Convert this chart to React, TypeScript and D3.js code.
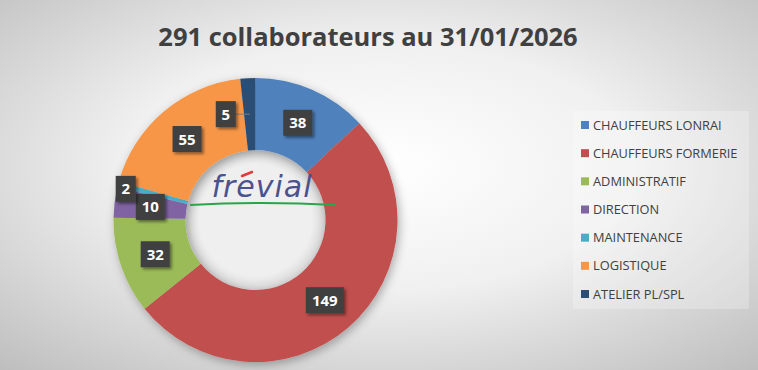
import React from "react";
import * as d3 from "d3";

const categories = ["CHAUFFEURS LONRAI", "CHAUFFEURS FORMERIE", "ADMINISTRATIF", "DIRECTION", "MAINTENANCE", "LOGISTIQUE", "ATELIER PL/SPL"];
const values = [38, 149, 32, 10, 2, 55, 5];
const colors = ["#4f81bd", "#c0504d", "#9bbb59", "#8064a2", "#4bacc6", "#f79646", "#2c4d75"];
const title = "291 collaborateurs au 31/01/2026";

const W = 758, H = 370;
const cx = 255.5, cy = 220, outerR = 142, innerR = 70;

export default function App() {
  const pie = d3.pie<number>().sort(null).value((d) => d)(values);
  const arc = d3.arc<d3.PieArcDatum<number>>().innerRadius(innerR).outerRadius(outerR);
  const labelArc = d3.arc<d3.PieArcDatum<number>>().innerRadius(106).outerRadius(106);
  const outArc = d3.arc<d3.PieArcDatum<number>>().innerRadius(132).outerRadius(132);
  const font = "'Open Sans', 'DejaVu Sans', sans-serif";
  const legendY = d3.scalePoint<string>().domain(categories).range([125, 294]);

  return (
    <svg width={W} height={H} style={{ position: "absolute", left: 0, top: 0 }}>
      <defs>
        <radialGradient id="bg" cx="0.5" cy="0.45" r="0.75">
          <stop offset="0" stopColor="#ffffff" />
          <stop offset="0.45" stopColor="#f0f0f0" />
          <stop offset="1" stopColor="#bdbdbd" />
        </radialGradient>
        <filter id="sh" x="-20%" y="-20%" width="140%" height="140%">
          <feDropShadow dx="2" dy="3" stdDeviation="5" floodColor="#000" floodOpacity="0.3" />
        </filter>
        <filter id="lsh" x="-30%" y="-30%" width="160%" height="160%">
          <feDropShadow dx="2" dy="2" stdDeviation="1.5" floodColor="#000" floodOpacity="0.45" />
        </filter>
        <radialGradient id="hole" cx="0.5" cy="0.5" r="0.5">
          <stop offset="0.8" stopColor="#efefef" />
          <stop offset="1" stopColor="#d8d8d8" />
        </radialGradient>
      </defs>
      <rect x={0} y={0} width={W} height={H} fill="url(#bg)" />
      <text x={368} y={46} textAnchor="middle" fontFamily={font} fontWeight="bold" fontSize={25.5} fill="#404040">{title}</text>

      <g transform={`translate(${cx},${cy})`}>
        <circle r={innerR} fill="url(#hole)" />
        <g filter="url(#sh)">
          {pie.map((p, i) => (
            <path key={i} d={arc(p) || ""} fill={colors[i]} />
          ))}
        </g>
      </g>

      {/* logo */}
      <g>
        <text x={262} y={197} textAnchor="middle" fontFamily="'DejaVu Sans', sans-serif" fontStyle="italic" fontSize={30} fill="#4a5290" letterSpacing={1}>frevial</text>
        <path d="M 242 176 L 252 172" stroke="#e03a3a" strokeWidth={2.5} strokeLinecap="round" />
        <path d="M 190 205 Q 262 201 336 205" stroke="#2aa54a" strokeWidth={2} fill="none" />
      </g>

      <g transform={`translate(${cx},${cy})`}>
        {pie.map((p, i) => {
          let [x, y] = labelArc.centroid(p);
          const label = String(values[i]);
          const w = 11 + label.length * 9;
          const h = 26;
          let leader = null as any;
          if (values[i] === 2) {
            [x, y] = outArc.centroid(p);
            x -= 2; y += 2;
          }
          if (values[i] === 5) {
            const [lx, ly] = labelArc.centroid(p);
            x = lx - 24;
            leader = <line x1={x + w / 2} y1={ly} x2={lx} y2={ly} stroke="#7f7f7f" strokeWidth={1} />;
          }
          return (
            <g key={i}>
              {leader}
              <rect x={x - w / 2} y={y - h / 2} width={w} height={h} fill="#404040" filter="url(#lsh)" />
              <text x={x} y={y + 5.5} textAnchor="middle" fontFamily={font} fontWeight="bold" fontSize={15} fill="#ffffff">{label}</text>
            </g>
          );
        })}
      </g>

      <rect x={573} y={111} width={176} height={198} fill="#ffffff" fillOpacity={0.25} />
      {categories.map((c, i) => (
        <g key={c}>
          <rect x={581} y={legendY(c)! - 4} width={8} height={8} fill={colors[i]} />
          <text x={593} y={legendY(c)! + 4.5} fontFamily={font} fontSize={12.8} fill="#404040">{c}</text>
        </g>
      ))}
    </svg>
  );
}
